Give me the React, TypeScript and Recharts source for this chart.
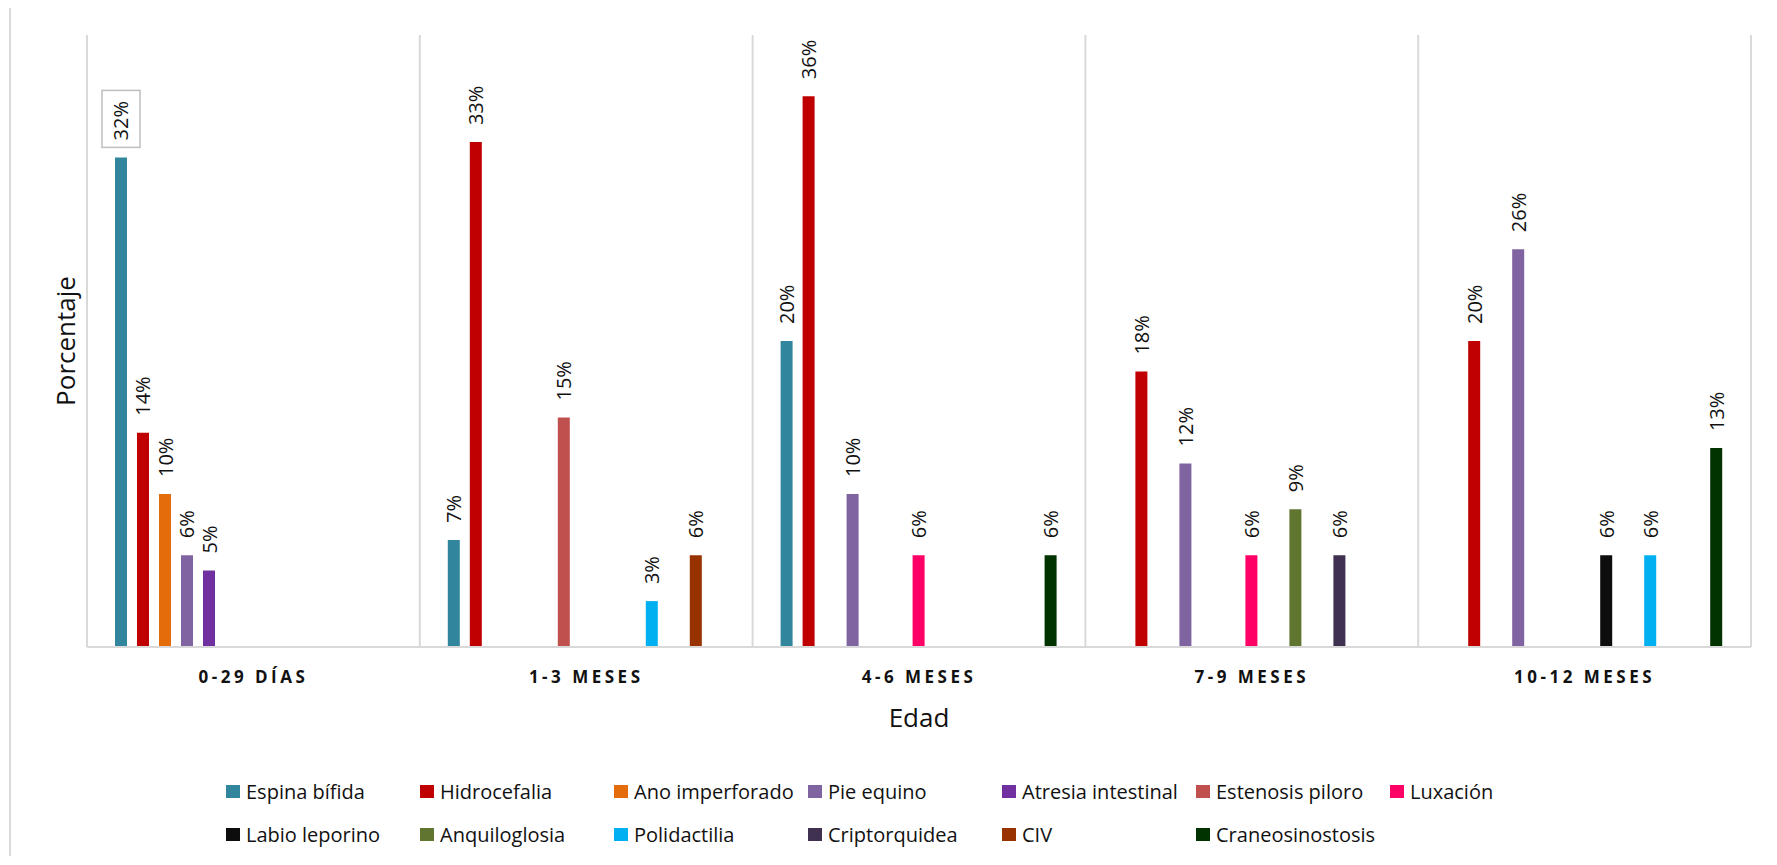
import React from 'react'
import {
  BarChart,
  Bar,
  XAxis,
  YAxis,
  ReferenceLine,
  Legend,
  LabelList,
} from 'recharts'

const categories = ['0-29 DÍAS', '1-3 MESES', '4-6 MESES', '7-9 MESES', '10-12 MESES']

const seriesNames = [
  'Espina bífida',
  'Hidrocefalia',
  'Ano imperforado',
  'Pie equino',
  'Atresia intestinal',
  'Estenosis piloro',
  'Luxación',
  'Labio leporino',
  'Anquiloglosia',
  'Polidactilia',
  'Criptorquidea',
  'CIV',
  'Craneosinostosis',
]

const seriesColors = [
  '#31859c',
  '#c00000',
  '#e46c0a',
  '#8064a2',
  '#7030a0',
  '#c0504d',
  '#ff0066',
  '#0d0d0d',
  '#607630',
  '#00b0f0',
  '#403151',
  '#983200',
  '#003300',
]

// one value per age group, null where the condition was not recorded
const espinaBifida = [0.32, 0.07, 0.2, null, null]
const hidrocefalia = [0.14, 0.33, 0.36, 0.18, 0.2]
const anoImperforado = [0.1, null, null, null, null]
const pieEquino = [0.06, null, 0.1, 0.12, 0.26]
const atresiaIntestinal = [0.05, null, null, null, null]
const estenosisPiloro = [null, 0.15, null, null, null]
const luxacion = [null, null, 0.06, 0.06, null]
const labioLeporino = [null, null, null, null, 0.06]
const anquiloglosia = [null, null, null, 0.09, null]
const polidactilia = [null, 0.03, null, null, 0.06]
const criptorquidea = [null, null, null, 0.06, null]
const civ = [null, 0.06, null, null, null]
const craneosinostosis = [null, null, 0.06, null, 0.13]

const seriesValues = [
  espinaBifida,
  hidrocefalia,
  anoImperforado,
  pieEquino,
  atresiaIntestinal,
  estenosisPiloro,
  luxacion,
  labioLeporino,
  anquiloglosia,
  polidactilia,
  criptorquidea,
  civ,
  craneosinostosis,
]

// label drawn inside a frame
const framedLabels = [{ serie: 'Espina bífida', edad: '0-29 DÍAS' }]

const data = categories.map((edad, i) => {
  const row: Record<string, string | number | null> = { edad }
  seriesNames.forEach((name, s) => {
    row[name] = seriesValues[s][i]
  })
  return row
})

const FONT = '"Open Sans", sans-serif'

const pct = (v: number) => `${Math.round(v * 100)}%`

function makeLabel(serie: string) {
  return (props: any) => {
    const { x, y, width, value, index } = props
    if (value == null) return null
    const cx = Number(x) + Number(width) / 2
    const base = Number(y) - 17
    const framed = framedLabels.some(
      (f) => f.serie === serie && f.edad === categories[index]
    )
    return (
      <g>
        {framed && (
          <rect
            x={cx - 19}
            y={base - 50}
            width={38}
            height={57}
            fill="#fff"
            stroke="#bfbfbf"
            strokeWidth={1.5}
          />
        )}
        <text
          x={cx}
          y={base}
          transform={`rotate(-90 ${cx} ${base})`}
          textAnchor="start"
          dominantBaseline="central"
          fontFamily={FONT}
          fontSize={20}
          fill="#111"
        >
          {pct(value)}
        </text>
      </g>
    )
  }
}

function EdadTick(props: any) {
  const { x, y, payload } = props
  return (
    <text
      x={x}
      y={y + 29}
      textAnchor="middle"
      dominantBaseline="central"
      fontFamily={FONT}
      fontSize={17}
      fontWeight={700}
      letterSpacing={3.5}
      fill="#111"
    >
      {payload.value}
    </text>
  )
}

function LegendGrid() {
  return (
    <div style={{ position: 'relative', width: '100%', height: 90 }}>
      {seriesNames.map((name, i) => {
        const col = i % 7
        const row = Math.floor(i / 7)
        return (
          <div
            key={name}
            style={{
              position: 'absolute',
              left: 218 + col * 194,
              top: row * 43,
              display: 'flex',
              alignItems: 'center',
              height: 26,
              fontFamily: FONT,
              fontSize: 20,
              color: '#111',
              whiteSpace: 'nowrap',
            }}
          >
            <span
              style={{
                display: 'inline-block',
                width: 14,
                height: 13,
                background: seriesColors[i],
                marginRight: 6,
              }}
            />
            {name}
          </div>
        )
      })}
    </div>
  )
}

export default function App() {
  return (
    <div style={{ position: 'relative', width: 1761, height: 849 }}>
      <div
        style={{
          position: 'absolute',
          left: 1,
          top: -4,
          width: 1759,
          height: 852,
          borderLeft: '2px solid #d9d9d9',
          borderTop: '2px solid #d9d9d9',
          boxSizing: 'border-box',
        }}
      />
      <BarChart
        width={1761}
        height={849}
        data={data}
        margin={{ top: 27, right: 18, bottom: 30, left: 0 }}
        barSize={12}
        barGap={10}
      >
        <XAxis
          dataKey="edad"
          height={90}
          axisLine={{ stroke: '#d9d9d9', strokeWidth: 2 }}
          tickLine={false}
          tickSize={0}
          tickMargin={0}
          tick={<EdadTick />}
          interval={0}
          label={{
            content: (p: any) => {
              const vb = p.viewBox
              return (
                <text
                  x={vb.x + vb.width / 2}
                  y={vb.y + 70}
                  textAnchor="middle"
                  dominantBaseline="central"
                  fontFamily={FONT}
                  fontSize={26}
                  fill="#111"
                >
                  Edad
                </text>
              )
            },
          }}
        />
        <YAxis
          domain={[0, 0.4]}
          width={79}
          axisLine={false}
          tickLine={false}
          tick={false}
          label={{
            content: (p: any) => {
              const vb = p.viewBox
              const cy = vb.y + vb.height / 2
              return (
                <text
                  x={57}
                  y={cy}
                  transform={`rotate(-90 57 ${cy})`}
                  textAnchor="middle"
                  dominantBaseline="central"
                  fontFamily={FONT}
                  fontSize={26}
                  fill="#111"
                >
                  Porcentaje
                </text>
              )
            },
          }}
        />
        {/* separators at the start of every age group, plus the closing one */}
        {categories.map((c) => (
          <ReferenceLine
            key={c}
            x={c}
            position="start"
            stroke="#d9d9d9"
            strokeWidth={2}
          />
        ))}
        <ReferenceLine
          x={categories[categories.length - 1]}
          position="end"
          stroke="#d9d9d9"
          strokeWidth={2}
        />
        <Legend
          verticalAlign="bottom"
          content={<LegendGrid />}
          wrapperStyle={{ left: 0, top: 770, width: 1761, height: 90 }}
        />
        {seriesNames.map((name, i) => (
          <Bar
            key={name}
            dataKey={name}
            fill={seriesColors[i]}
            isAnimationActive={false}
          >
            <LabelList dataKey={name} content={makeLabel(name)} />
          </Bar>
        ))}
      </BarChart>
    </div>
  )
}
